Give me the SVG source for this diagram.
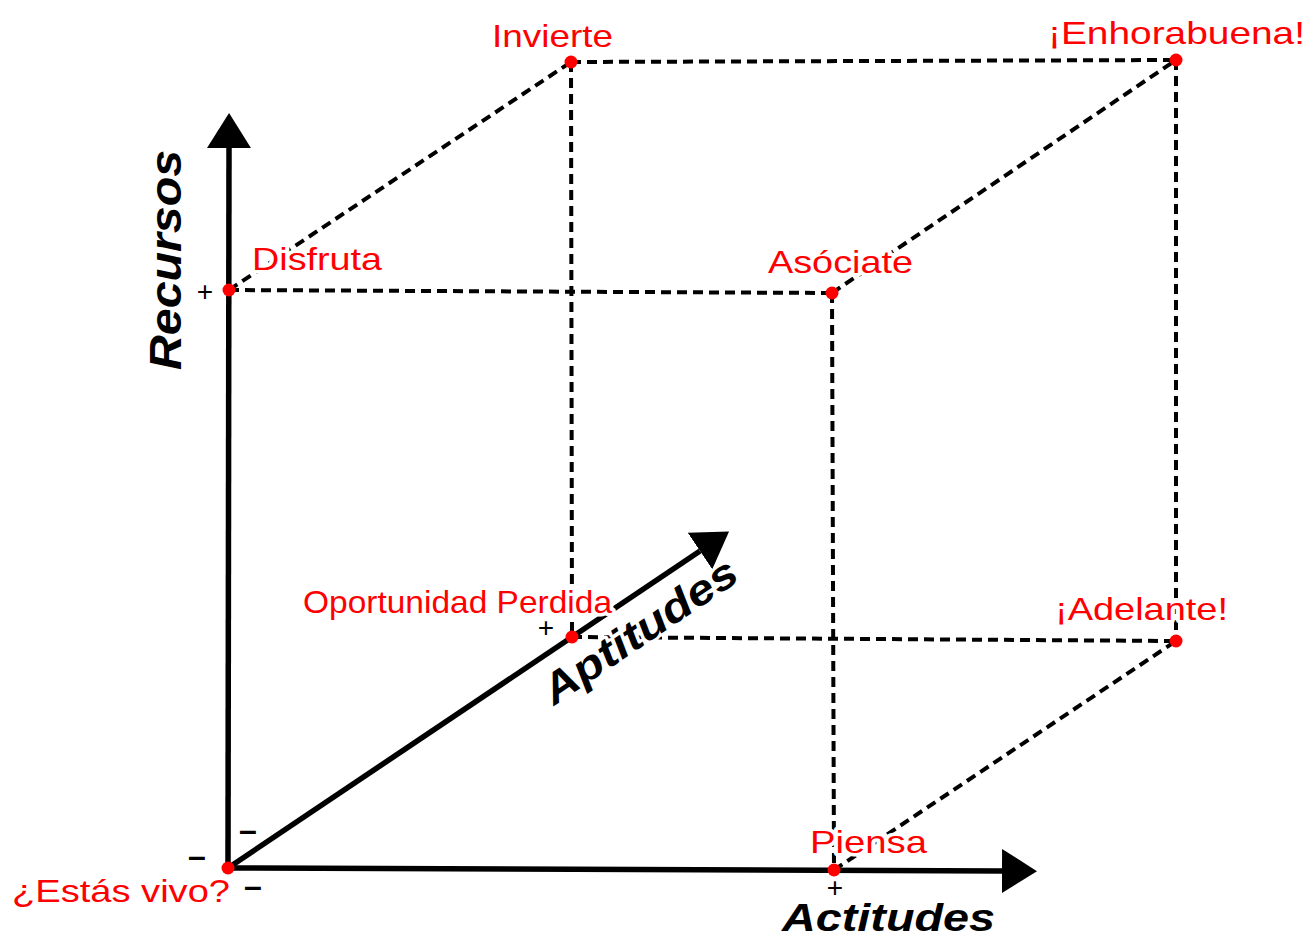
<svg xmlns="http://www.w3.org/2000/svg" width="1310" height="938" viewBox="0 0 1310 938">
  <style>
    .axis { stroke: #000; stroke-width: 5.5; fill: none; }
    .dash { stroke: #000; stroke-width: 4; stroke-dasharray: 10 6; fill: none; }
    .dot { fill: #ff0000; }
    .lbl { font-family: "Liberation Sans", Arial, sans-serif; font-size: 32px; fill: #ff0000; stroke: #fff; stroke-width: 7; stroke-linejoin: round; paint-order: stroke; }
    .ax { font-family: "Liberation Sans", Arial, sans-serif; font-weight: bold; font-style: italic; fill: #000; stroke: #fff; stroke-width: 6; stroke-linejoin: round; paint-order: stroke; }
    .sign { font-family: "Liberation Sans", Arial, sans-serif; fill: #000; text-anchor: middle; }
  </style>
  <defs>
    <marker id="arrow" viewBox="0 -24 36 48" refX="0" refY="0" markerUnits="userSpaceOnUse" markerWidth="36" markerHeight="48" orient="auto">
      <path d="M0,-22 L35,0 L0,22 Z" fill="#000"/>
    </marker>
  </defs>
  <rect width="1310" height="938" fill="#fff"/>

  <g id="axes">
    <line class="axis" x1="228" y1="868" x2="229" y2="148" marker-end="url(#arrow)"/>
    <line class="axis" x1="228" y1="868" x2="1002" y2="871" marker-end="url(#arrow)"/>
    <line class="axis" x1="228" y1="868" x2="700" y2="551" marker-end="url(#arrow)"/>
  </g>

  <g id="connectors">
    <line class="dash" x1="229" y1="290" x2="571" y2="62"/>
    <line class="dash" x1="229" y1="290" x2="832" y2="293"/>
    <line class="dash" x1="571" y1="62" x2="1176" y2="60"/>
    <line class="dash" x1="571" y1="62" x2="572" y2="637"/>
    <line class="dash" x1="832" y1="293" x2="1176" y2="60"/>
    <line class="dash" x1="832" y1="293" x2="834" y2="870"/>
    <line class="dash" x1="1176" y1="60" x2="1176" y2="641"/>
    <line class="dash" x1="572" y1="637" x2="1176" y2="641"/>
    <line class="dash" x1="834" y1="870" x2="1176" y2="641"/>
  </g>

  <g id="axis-labels">
    <text class="ax" font-size="44" x="181" y="370" textLength="220" lengthAdjust="spacingAndGlyphs" transform="rotate(-90 181 370)">Recursos</text>
    <text class="ax" font-size="39" x="782" y="931" textLength="213" lengthAdjust="spacingAndGlyphs">Actitudes</text>
    <text class="ax" font-size="42" x="554" y="706" textLength="226" lengthAdjust="spacingAndGlyphs" transform="rotate(-34 554 706)">Aptitudes</text>
  </g>

  <g id="node-estas-vivo">
    <text class="lbl" x="12" y="902" textLength="218" lengthAdjust="spacingAndGlyphs">¿Estás vivo?</text>
    <circle class="dot" cx="228" cy="868" r="6.5"/>
    <text class="sign" font-size="32" font-weight="bold" x="248" y="841">–</text>
    <text class="sign" font-size="32" font-weight="bold" x="197" y="867">–</text>
    <text class="sign" font-size="32" font-weight="bold" x="253" y="897">–</text>
  </g>

  <g id="node-disfruta">
    <text class="lbl" x="252" y="270" textLength="130" lengthAdjust="spacingAndGlyphs">Disfruta</text>
    <circle class="dot" cx="229" cy="290" r="6.5"/>
    <text class="sign" font-size="28" x="205" y="301">+</text>
  </g>

  <g id="node-invierte">
    <text class="lbl" x="492" y="47" textLength="121" lengthAdjust="spacingAndGlyphs">Invierte</text>
    <circle class="dot" cx="571" cy="62" r="6.5"/>
  </g>

  <g id="node-enhorabuena">
    <text class="lbl" x="1048" y="44" textLength="257" lengthAdjust="spacingAndGlyphs">¡Enhorabuena!</text>
    <circle class="dot" cx="1176" cy="60" r="6.5"/>
  </g>

  <g id="node-asociate">
    <text class="lbl" x="768" y="273" textLength="145" lengthAdjust="spacingAndGlyphs">Asóciate</text>
    <circle class="dot" cx="832" cy="293" r="6.5"/>
  </g>

  <g id="node-oportunidad-perdida">
    <text class="lbl" x="303" y="613" textLength="309" lengthAdjust="spacingAndGlyphs">Oportunidad Perdida</text>
    <circle class="dot" cx="572" cy="637" r="6.5"/>
    <text class="sign" font-size="28" x="546" y="637">+</text>
  </g>

  <g id="node-adelante">
    <text class="lbl" x="1055" y="620" textLength="173" lengthAdjust="spacingAndGlyphs">¡Adelante!</text>
    <circle class="dot" cx="1176" cy="641" r="6.5"/>
  </g>

  <g id="node-piensa">
    <text class="lbl" x="810" y="853" textLength="117" lengthAdjust="spacingAndGlyphs">Piensa</text>
    <circle class="dot" cx="834" cy="870" r="6.5"/>
    <text class="sign" font-size="28" x="835" y="897">+</text>
  </g>
</svg>
